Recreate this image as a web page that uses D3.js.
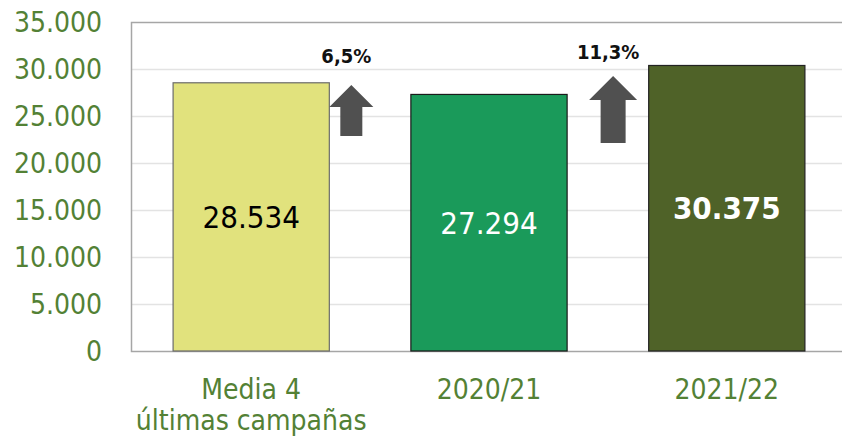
<!DOCTYPE html>
<html>
<head>
<meta charset="utf-8">
<script src="https://cdn.jsdelivr.net/npm/d3@7"></script>
<style>
  body { margin: 0; background: #fff; }
  text { font-family: "DejaVu Sans Condensed", "DejaVu Sans", sans-serif; }
</style>
</head>
<body>
<script>
// chart data
var categories = [["Media 4", "últimas campañas"], ["2020/21"], ["2021/22"]];
var values = [28534, 27294, 30375];
var valueLabels = ["28.534", "27.294", "30.375"];
var barColors = ["#e1e27d", "#1a9a5a", "#4f6228"];
var barStrokes = ["#6b6b6b", "#1a1a1a", "#222"];
var labelColors = ["#000", "#fff", "#fff"];
var labelWeights = ["normal", "normal", "bold"];
var ticks = [0, 5000, 10000, 15000, 20000, 25000, 30000, 35000];
var tickLabels = ["0", "5.000", "10.000", "15.000", "20.000", "25.000", "30.000", "35.000"];
var changes = ["6,5%", "11,3%"];

(function () {
  var width = 842, height = 437;
  var plotL = 131, plotR = 847, plotT = 22, plotB = 351;

  var svg = d3.select("body").append("svg")
    .attr("width", width).attr("height", height);

  var x = d3.scaleBand().domain(d3.range(values.length))
    .range([plotL, plotR]).paddingInner(0.343).paddingOuter(0.177);
  var y = d3.scaleLinear().domain([0, 35000]).range([plotB, plotT]);

  // gridlines
  svg.append("g").selectAll("line").data(ticks.slice(1, -1)).enter().append("line")
    .attr("x1", plotL).attr("x2", width)
    .attr("y1", function (d) { return y(d) + 0.5; })
    .attr("y2", function (d) { return y(d) + 0.5; })
    .attr("stroke", "#e3e3e3").attr("stroke-width", 1.5);

  // plot border (top, left, bottom)
  svg.append("path")
    .attr("d", "M" + width + "," + (y(35000) + 0.5) + "H" + (plotL + 0.5) + "V" + (plotB + 0.5) + "H" + width)
    .attr("fill", "none").attr("stroke", "#a6a6a6").attr("stroke-width", 1.5);

  // y tick labels
  svg.append("g").selectAll("text").data(ticks).enter().append("text")
    .attr("x", plotL - 29)
    .attr("y", function (d) { return y(d); })
    .attr("dy", "0.36em")
    .attr("text-anchor", "end")
    .attr("font-size", 28)
    .attr("fill", "#538135")
    .text(function (d, i) { return tickLabels[i]; });

  // bars
  svg.append("g").selectAll("rect").data(values).enter().append("rect")
    .attr("x", function (d, i) { return x(i); })
    .attr("y", function (d) { return y(d); })
    .attr("width", x.bandwidth())
    .attr("height", function (d) { return plotB - y(d); })
    .attr("fill", function (d, i) { return barColors[i]; })
    .attr("stroke", function (d, i) { return barStrokes[i]; })
    .attr("stroke-width", 1.2);

  // value labels inside bars
  svg.append("g").selectAll("text").data(values).enter().append("text")
    .attr("x", function (d, i) { return x(i) + x.bandwidth() / 2; })
    .attr("y", function (d) { return (y(d) + plotB) / 2; })
    .attr("dy", "0.36em")
    .attr("text-anchor", "middle")
    .attr("font-size", 31)
    .attr("font-weight", function (d, i) { return labelWeights[i]; })
    .attr("fill", function (d, i) { return labelColors[i]; })
    .text(function (d, i) { return valueLabels[i]; });

  // category labels
  var cat = svg.append("g").selectAll("text").data(categories).enter().append("text")
    .attr("x", function (d, i) { return x(i) + x.bandwidth() / 2; })
    .attr("y", 399)
    .attr("text-anchor", "middle")
    .attr("font-size", 28)
    .attr("fill", "#538135");
  cat.selectAll("tspan").data(function (d) { return d; }).enter().append("tspan")
    .attr("x", function () { return d3.select(this.parentNode).attr("x"); })
    .attr("dy", function (d, i) { return i === 0 ? 0 : 31; })
    .text(function (d) { return d; });

  // up arrows with change labels
  var arrows = [
    { cx: x(0) + x.bandwidth() + 22, y0: 22870, y1: 28300, head: 44, shaft: 22, headH: 22, label: changes[0], lx: x(0) + x.bandwidth() + 17, ly: 56 },
    { cx: x(1) + x.bandwidth() + 46, y0: 22130, y1: 29250, head: 48, shaft: 25, headH: 24, label: changes[1], lx: x(1) + x.bandwidth() + 41, ly: 52 }
  ];
  arrows.forEach(function (a) {
    var yb = y(a.y0), yt = y(a.y1);
    var p = d3.path();
    p.moveTo(a.cx, yt);
    p.lineTo(a.cx + a.head / 2, yt + a.headH);
    p.lineTo(a.cx + a.shaft / 2, yt + a.headH);
    p.lineTo(a.cx + a.shaft / 2, yb);
    p.lineTo(a.cx - a.shaft / 2, yb);
    p.lineTo(a.cx - a.shaft / 2, yt + a.headH);
    p.lineTo(a.cx - a.head / 2, yt + a.headH);
    p.closePath();
    svg.append("path").attr("d", p.toString()).attr("fill", "#505050");
    svg.append("text")
      .attr("x", a.lx).attr("y", a.ly).attr("dy", "0.36em")
      .attr("text-anchor", "middle")
      .attr("font-size", 20).attr("font-weight", "bold")
      .attr("fill", "#111")
      .text(a.label);
  });
})();
</script>
</body>
</html>
